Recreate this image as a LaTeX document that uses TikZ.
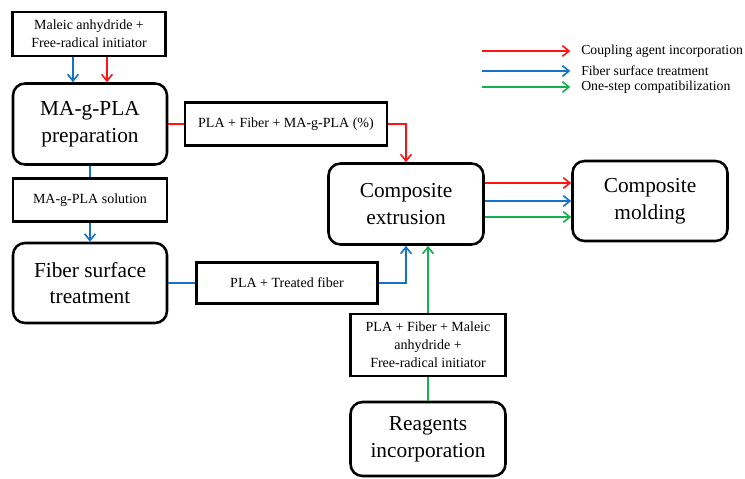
\documentclass[tikz,border=0pt]{standalone}
\usepackage{fontspec}
\setmainfont{Liberation Serif}
\usepackage{tikz}
\usetikzlibrary{arrows.meta}
\definecolor{RouteRed}{RGB}{255,20,20}
\definecolor{RouteBlue}{RGB}{20,115,200}
\definecolor{RouteGreen}{RGB}{20,175,80}

\begin{document}
\begin{tikzpicture}[x=0.75pt,y=-0.75pt,
  stage/.style n args={3}{draw,line width=1.9pt,rounded corners=9pt,minimum width=#1pt,minimum height=#2pt,align=center,font=\fontsize{16}{20}\selectfont,inner sep=0pt},
  feed/.style n args={2}{draw,line width=1.8pt,minimum width=#1pt,minimum height=#2pt,align=center,font=\fontsize{10.5}{13.5}\selectfont,inner sep=0pt},
  route/.style={line width=1.5pt,draw=#1},
  tip/.style={route=#1,-{Straight Barb[length=5pt,width=8pt,line width=1.2pt]}}]
\useasboundingbox (0,0) rectangle (745,478);
\node[feed={114.75}{33}](ma) at(89,34) {Maleic anhydride +\\Free-radical initiator};
\node[stage={115.5}{60.75}{}](prep) at(90,124) {MA-g-PLA\\preparation};
\node[feed={151.5}{32.25}](pf) at(286,124) {PLA + Fiber + MA-g-PLA (\%)};
\node[feed={115.5}{32.25}](sol) at(90,200) {MA-g-PLA solution};
\node[stage={115.5}{60}{}](fib) at(90,283) {Fiber surface\\treatment};
\node[feed={135.75}{30.75}](pt) at(287,283) {PLA + Treated fiber};
\node[stage={116.25}{60.75}{}](extr) at(406,204) {Composite\\extrusion};
\node[stage={116.25}{60}{}](mold) at(650,201) {Composite\\molding};
\node[feed={116.25}{46.5}](pfm) at(428,345) {PLA + Fiber + Maleic\\anhydride +\\Free-radical initiator};
\node[stage={116.25}{55.5}{}](reag) at(428,439) {Reagents\\incorporation};
% routes
\coordinate (b1) at (73,0);
\coordinate (r1) at (107,0);
\draw[tip=RouteBlue] (ma.south -| b1) -- (prep.north -| b1);
\draw[tip=RouteRed] (ma.south -| r1) -- (prep.north -| r1);
\draw[route=RouteRed] (prep.east) -- (pf.west);
\draw[tip=RouteRed] (pf.east) -| (extr.north);
\draw[route=RouteBlue] (prep.south) -- (prep.south |- sol.north);
\draw[tip=RouteBlue] (sol.south) -- (sol.south |- fib.north);
\draw[route=RouteBlue] (fib.east) -- (pt.west);
\draw[tip=RouteBlue] (pt.east) -| (extr.south);
\draw[route=RouteGreen] (reag.north) -- (pfm.south);
\draw[tip=RouteGreen] (pfm.north) -- (pfm.north |- extr.south);
\foreach \y/\c [count=\i] in {183/RouteRed,201/RouteBlue,217/RouteGreen} {
   \coordinate (o\i) at (0,\y);
   \draw[tip=\c] (extr.east |- o\i) -- (mold.west |- o\i);
}
% legend
\foreach \y/\c/\t [count=\i] in %
{51/RouteRed/Coupling agent incorporation,71/RouteBlue/Fiber surface treatment,87/RouteGreen/One-step compatibilization} {
   \coordinate (k\i) at (482,\y);
   \node[anchor=west,inner sep=0pt,font=\fontsize{10.3}{12}\selectfont](lg\i) at(581,\y) {\t};
   \draw[tip=\c] (k\i) -- ([xshift=-8pt]lg\i.west |- k\i);
}
\end{tikzpicture}
\end{document}
